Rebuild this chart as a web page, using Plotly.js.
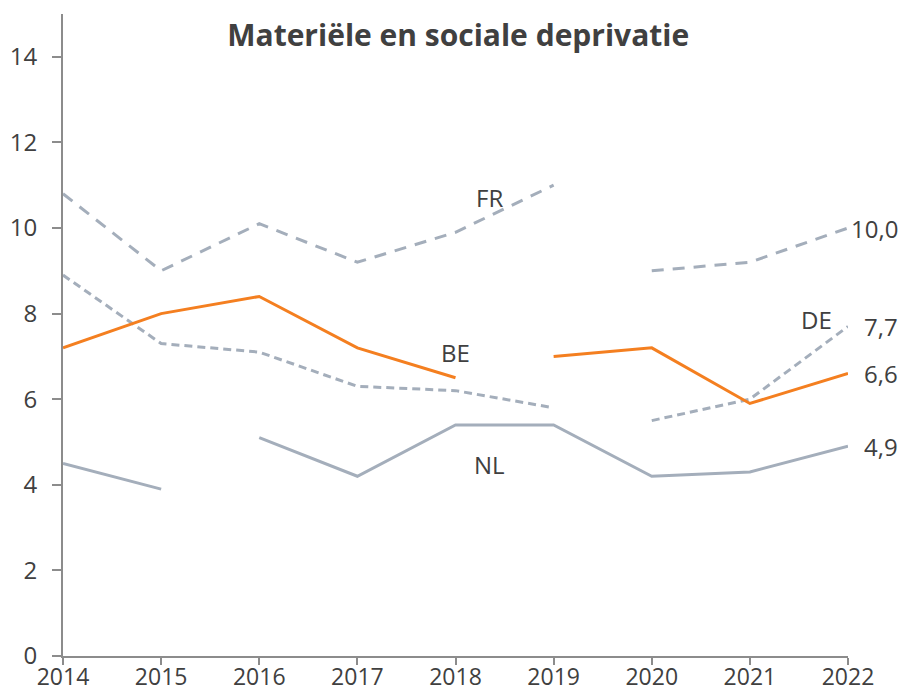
<!DOCTYPE html>
<html><head><meta charset="utf-8">
<script src="https://cdn.plot.ly/plotly-3.0.1.min.js"></script>
<style>html,body{margin:0;padding:0;background:#fff}#chart{width:902px;height:693px}</style>
</head><body><div id="chart"></div>
<script>
// Years (segments are split where the series has a break)
const yearsA = [2014, 2015, 2016, 2017, 2018, 2019];
const yearsB = [2020, 2021, 2022];
const yearsBE_A = [2014, 2015, 2016, 2017, 2018];
const yearsBE_B = [2019, 2020, 2021, 2022];
const yearsNL_A = [2014, 2015];
const yearsNL_B = [2016, 2017, 2018, 2019, 2020, 2021, 2022];

const FR_a = [10.8, 9.0, 10.1, 9.2, 9.9, 11.0];
const FR_b = [9.0, 9.2, 10.0];
const DE_a = [8.9, 7.3, 7.1, 6.3, 6.2, 5.8];
const DE_b = [5.5, 6.0, 7.7];
const BE_a = [7.2, 8.0, 8.4, 7.2, 6.5];
const BE_b = [7.0, 7.2, 5.9, 6.6];
const NL_a = [4.5, 3.9];
const NL_b = [5.1, 4.2, 5.4, 5.4, 4.2, 4.3, 4.9];

const seriesLabels = [
  {text: 'FR', x: 2018.35, y: 10.72},
  {text: 'BE', x: 2018.0, y: 7.1},
  {text: 'NL', x: 2018.35, y: 4.48},
  {text: 'DE', x: 2021.68, y: 7.86}
];
const endLabels = [
  {text: '10,0', y: 10.0},
  {text: '7,7', y: 7.7},
  {text: '6,6', y: 6.6},
  {text: '4,9', y: 4.9}
];

const ORANGE = '#F47F20';
const GREY = '#A4AEBB';
const FONT = 'Open Sans, DejaVu Sans, sans-serif';
const TXT = '#404040';

function tr(x, y, color, dash) {
  return {x: x, y: y, type: 'scatter', mode: 'lines', hoverinfo: 'skip',
    line: {color: color, width: 3, dash: dash}, showlegend: false};
}
const data = [
  tr(yearsA, FR_a, GREY, '12px,9px'), tr(yearsB, FR_b, GREY, '12px,9px'),
  tr(yearsA, DE_a, GREY, '8px,5px'), tr(yearsB, DE_b, GREY, '8px,5px'),
  tr(yearsNL_A, NL_a, GREY, 'solid'), tr(yearsNL_B, NL_b, GREY, 'solid'),
  tr(yearsBE_A, BE_a, ORANGE, 'solid'), tr(yearsBE_B, BE_b, ORANGE, 'solid')
];

const annotations = [];
seriesLabels.forEach(l => annotations.push({text: l.text, x: l.x, y: l.y, xref: 'x', yref: 'y',
  showarrow: false, font: {family: FONT, size: 24, color: TXT}}));
endLabels.forEach(l => annotations.push({text: l.text, x: 2022, y: l.y, xref: 'x', yref: 'y',
  xanchor: 'right', xshift: 52, showarrow: false, font: {family: FONT, size: 24, color: TXT}}));

const layout = {
  width: 902, height: 693,
  margin: {l: 63, r: 54, t: 14, b: 37},
  paper_bgcolor: '#fff', plot_bgcolor: '#fff',
  title: {text: '<b>Materiële en sociale deprivatie</b>', x: 0.508, xanchor: 'center',
    y: 1 - 35/693, yanchor: 'middle', yref: 'container',
    font: {family: FONT, size: 30, color: TXT}},
  xaxis: {range: [2014, 2022], tickvals: [2014,2015,2016,2017,2018,2019,2020,2021,2022],
    showgrid: false, zeroline: false, showline: true, linecolor: '#8C8C8C', linewidth: 2,
    ticks: 'outside', ticklen: 7, tickwidth: 2, tickcolor: '#8C8C8C', ticklabelstandoff: -8,
    tickfont: {family: FONT, size: 23, color: TXT}, fixedrange: true},
  yaxis: {range: [0, 15], tickvals: [0,2,4,6,8,10,12,14],
    showgrid: false, zeroline: false, showline: true, linecolor: '#8C8C8C', linewidth: 2,
    ticks: 'outside', ticklen: 9, tickwidth: 2, tickcolor: '#8C8C8C', ticklabelstandoff: 10,
    tickfont: {family: FONT, size: 24, color: TXT}, fixedrange: true},
  annotations: annotations
};
Plotly.newPlot('chart', data, layout, {displayModeBar: false, staticPlot: true});
</script></body></html>
